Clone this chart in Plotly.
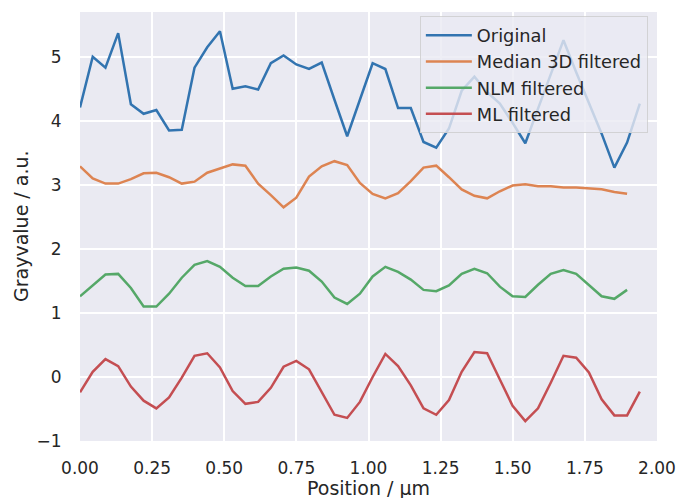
import numpy as np
import plotly.graph_objects as go

dx = 0.0441
original = [4.21, 5.00, 4.83, 5.37, 4.26, 4.11, 4.17, 3.85, 3.86, 4.83,
            5.15, 5.40, 4.50, 4.54, 4.49, 4.90, 5.02, 4.88, 4.81, 4.91,
            4.33, 3.76, 4.33, 4.90, 4.81, 4.20, 4.20, 3.67, 3.58, 3.88,
            4.47, 4.69, 4.45, 4.27, 3.97, 3.65, 4.19, 4.73, 5.26, 4.76,
            4.27, 3.80, 3.27, 3.66, 4.27]
median3d = [3.29, 3.10, 3.02, 3.02, 3.09, 3.18, 3.19, 3.12, 3.02, 3.05,
            3.19, 3.25, 3.32, 3.30, 3.02, 2.84, 2.65, 2.80, 3.13, 3.29,
            3.37, 3.31, 3.03, 2.86, 2.79, 2.87, 3.06, 3.27, 3.30, 3.12,
            2.93, 2.83, 2.79, 2.90, 2.99, 3.01, 2.98, 2.98, 2.96, 2.96,
            2.95, 2.93, 2.89, 2.86]
nlm = [1.26, 1.43, 1.60, 1.61, 1.39, 1.10, 1.10, 1.30, 1.55, 1.75,
       1.81, 1.72, 1.55, 1.42, 1.42, 1.57, 1.69, 1.71, 1.66, 1.49,
       1.24, 1.14, 1.30, 1.57, 1.72, 1.64, 1.52, 1.36, 1.34, 1.43,
       1.61, 1.69, 1.62, 1.41, 1.26, 1.25, 1.44, 1.61, 1.67, 1.61,
       1.44, 1.26, 1.22, 1.36]
ml = [-0.24, 0.08, 0.28, 0.17, -0.15, -0.37, -0.49, -0.32, -0.01, 0.33,
      0.37, 0.15, -0.22, -0.42, -0.39, -0.17, 0.16, 0.25, 0.12, -0.23,
      -0.59, -0.64, -0.39, 0.00, 0.36, 0.17, -0.13, -0.49, -0.59, -0.36,
      0.08, 0.39, 0.37, -0.04, -0.45, -0.69, -0.49, -0.09, 0.33, 0.30,
      0.07, -0.35, -0.60, -0.60, -0.23]

series = [("Original", original, "#3274B0"),
          ("Median 3D filtered", median3d, "#DD8452"),
          ("NLM filtered", nlm, "#55A868"),
          ("ML filtered", ml, "#C44E52")]

xticks = [0.0, 0.25, 0.5, 0.75, 1.0, 1.25, 1.5, 1.75, 2.0]
yticks = [-1, 0, 1, 2, 3, 4, 5]
x_title = "Position / µm"
y_title = "Grayvalue / a.u."

fig = go.Figure()
for name, vals, col in series:
    x = np.arange(len(vals)) * dx
    fig.add_trace(go.Scatter(x=x, y=vals, mode="lines", name=name,
                             line=dict(color=col, width=2.5)))

txt = "#262626"
fig.update_layout(
    width=680, height=498,
    margin=dict(l=80, r=23, t=12, b=57),
    paper_bgcolor="white",
    plot_bgcolor="#EAEAF2",
    font=dict(family="DejaVu Sans", color=txt, size=17),
    showlegend=True,
    legend=dict(x=0.589, y=0.99, xanchor="left", yanchor="top",
                itemwidth=46,
                bgcolor="rgba(234,234,242,0.8)",
                bordercolor="rgba(204,204,204,0.8)", borderwidth=1,
                font=dict(size=17.8, color=txt)),
)
fig.update_xaxes(range=[0, 2.0], tickvals=xticks,
                 ticktext=[f"{v:.2f}" for v in xticks],
                 showgrid=True, gridcolor="white", gridwidth=1.5,
                 zeroline=False, showline=False, automargin=False,
                 ticks="outside", ticklen=12, tickcolor="rgba(0,0,0,0)",
                 tickfont=dict(size=17))
fig.update_yaxes(range=[-1.0, 5.70], tickvals=yticks,
                 ticktext=[str(v).replace("-", "\u2212") for v in yticks],
                 showgrid=True, gridcolor="white", gridwidth=1.5,
                 zeroline=False, showline=False, automargin=False,
                 ticks="outside", ticklen=14, tickcolor="rgba(0,0,0,0)",
                 tickfont=dict(size=17))
fig.add_annotation(text=x_title, xref="paper", yref="paper", x=0.5, y=0,
                   xanchor="center", yanchor="top", yshift=-34,
                   showarrow=False, font=dict(size=19, color=txt))
fig.add_annotation(text=y_title, xref="paper", yref="paper", x=0, y=0.5,
                   xanchor="center", yanchor="middle", xshift=-59.5,
                   textangle=-90, showarrow=False, font=dict(size=19, color=txt))

fig.write_html("out.html", config={"displayModeBar": False})
with open("out.html", encoding="utf-8") as f:
    html = f.read()
html = html.replace("<head>", "<head><style>html,body{margin:0;padding:0;overflow:hidden;}</style>", 1)
with open("out.html", "w", encoding="utf-8") as f:
    f.write(html)
